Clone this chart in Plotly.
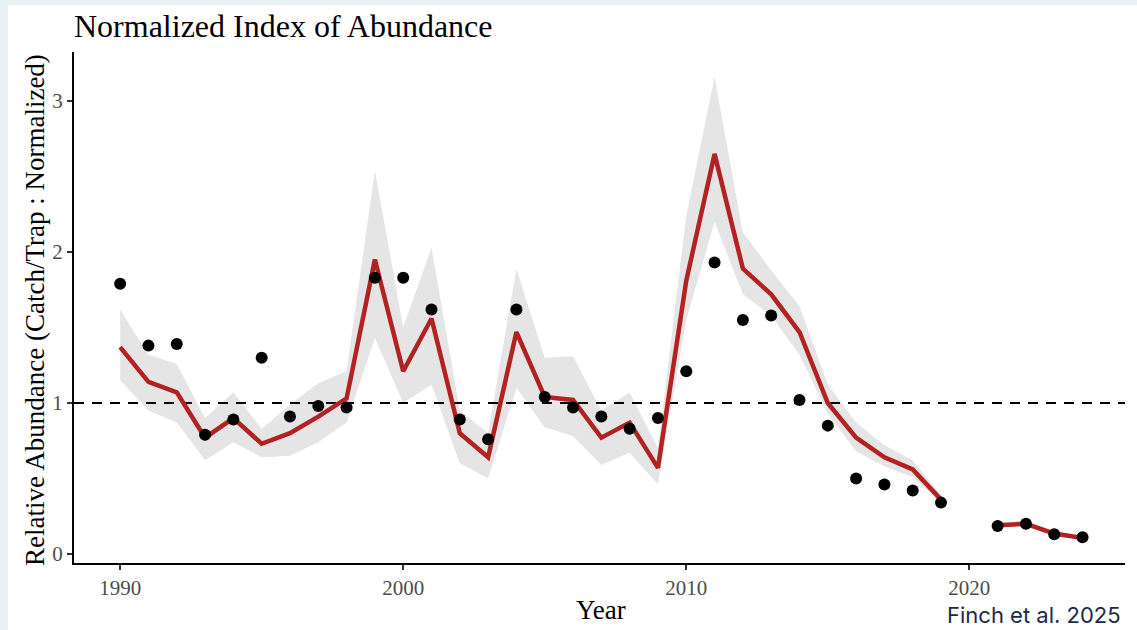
import plotly.graph_objects as go

years = [1990, 1991, 1992, 1993, 1994, 1995, 1996, 1997, 1998, 1999,
         2000, 2001, 2002, 2003, 2004, 2005, 2006, 2007, 2008, 2009,
         2010, 2011, 2012, 2013, 2014, 2015, 2016, 2017, 2018, 2019,
         2021, 2022, 2023, 2024]

observed = [1.79, 1.38, 1.39, 0.79, 0.89, 1.30, 0.91, 0.98, 0.97, 1.83,
            1.83, 1.62, 0.89, 0.76, 1.62, 1.04, 0.97, 0.91, 0.83, 0.90,
            1.21, 1.93, 1.55, 1.58, 1.02, 0.85, 0.50, 0.46, 0.42, 0.34,
            0.185, 0.20, 0.13, 0.11]

fitted = [1.37, 1.14, 1.07, 0.77, 0.90, 0.73, 0.80, 0.91, 1.03, 1.95,
          1.21, 1.56, 0.80, 0.64, 1.47, 1.04, 1.02, 0.77, 0.87, 0.57,
          1.81, 2.65, 1.89, 1.72, 1.47, 1.00, 0.77, 0.64, 0.56, 0.36,
          0.19, 0.20, 0.135, 0.105]

lower = [1.15, 0.95, 0.87, 0.62, 0.74, 0.64, 0.65, 0.74, 0.87, 1.43,
         1.00, 1.12, 0.60, 0.50, 1.10, 0.84, 0.78, 0.59, 0.67, 0.46,
         1.55, 2.20, 1.72, 1.58, 1.32, 0.93, 0.68, 0.58, 0.51, 0.34,
         0.175, 0.185, 0.12, 0.095]

upper = [1.62, 1.32, 1.26, 0.90, 1.07, 0.83, 0.99, 1.13, 1.21, 2.54,
         1.50, 2.03, 0.95, 0.80, 1.89, 1.30, 1.31, 0.95, 1.07, 0.70,
         2.24, 3.16, 2.13, 1.88, 1.64, 1.12, 0.87, 0.72, 0.62, 0.39,
         0.205, 0.22, 0.15, 0.115]

x_ticks = [1990, 2000, 2010, 2020]
y_ticks = [0, 1, 2, 3]
reference_level = 1

X_RANGE = [1988.37, 2025.5]
Y_RANGE = [-0.06, 3.325]

# split into continuous segments (survey gap in 2020)
segments = []
start = 0
for i in range(1, len(years)):
    if years[i] - years[i - 1] > 1:
        segments.append((start, i))
        start = i
segments.append((start, len(years)))

SERIF = "Liberation Serif, Times New Roman, serif"
RED = "#b22222"
FRAME = "#e8f1f4"

W, H = 1137, 630
L, R, T, B = 74, 12, 52, 67
pw, ph = W - L - R, H - T - B

fig = go.Figure()

# confidence ribbon
for a, b in segments:
    xs = years[a:b]
    fig.add_trace(go.Scatter(
        x=xs + xs[::-1],
        y=upper[a:b] + lower[a:b][::-1],
        fill="toself", fillcolor="#e5e5e5",
        line=dict(width=0), mode="lines",
        hoverinfo="skip", showlegend=False))

# reference line at 1 (drawn above ribbon, below the fitted line)
fig.add_trace(go.Scatter(
    x=X_RANGE, y=[reference_level, reference_level], mode="lines",
    line=dict(color="black", width=2, dash="10px,8px"),
    hoverinfo="skip", showlegend=False))

# fitted index
for a, b in segments:
    fig.add_trace(go.Scatter(
        x=years[a:b], y=fitted[a:b], mode="lines",
        line=dict(color=RED, width=4.5), showlegend=False))

# observed points
fig.add_trace(go.Scatter(
    x=years, y=observed, mode="markers",
    marker=dict(color="black", size=12), showlegend=False))

axis_common = dict(showgrid=False, zeroline=False,
                   showline=True, linecolor="black", linewidth=2,
                   ticks="outside", ticklen=5, tickwidth=2, tickcolor="#333333",
                   tickfont=dict(family=SERIF, size=21, color="#4d4d4d"))

fig.update_layout(
    width=W, height=H,
    margin=dict(l=L, r=R, t=T, b=B),
    paper_bgcolor=FRAME, plot_bgcolor="white",
    font=dict(family=SERIF, color="black"),
    xaxis=dict(range=X_RANGE, tickvals=x_ticks, **axis_common),
    yaxis=dict(range=Y_RANGE, tickvals=y_ticks, **axis_common),
    annotations=[
        dict(text="Normalized Index of Abundance", xref="paper", yref="paper",
             x=(72 - L) / pw, y=1 + (T - 26) / ph, xanchor="left", yanchor="middle",
             showarrow=False, font=dict(family=SERIF, size=32, color="black")),
        dict(text="Year", xref="paper", yref="paper",
             x=(601 - L) / pw, y=-(610 - 563) / ph, xanchor="center", yanchor="middle",
             showarrow=False, font=dict(family=SERIF, size=27, color="black")),
        dict(text="Relative Abundance (Catch/Trap : Normalized)", xref="paper", yref="paper",
             x=(35 - L) / pw, y=1 - (310 - T) / ph, xanchor="center", yanchor="middle",
             textangle=-90, showarrow=False,
             font=dict(family=SERIF, size=27, color="black")),
        dict(text="Finch et al. 2025", xref="paper", yref="paper",
             x=(1123 - L) / pw, y=-(615 - 563) / ph, xanchor="right", yanchor="middle",
             showarrow=False, font=dict(family="Inter, sans-serif", size=22, color="#1c2a48")),
    ],
)

# white card over the light-blue page frame (frame visible on left and top)
fig.add_shape(type="rect", xref="paper", yref="paper",
              x0=(8 - L) / pw, x1=1 + (R + 2) / pw,
              y0=-(B + 2) / ph, y1=1 + (T - 5) / ph,
              fillcolor="white", line=dict(width=0), layer="below")

fig.write_html("out.html",
               config={"displayModeBar": False},
               post_script="document.body.style.margin='0';document.body.style.overflow='hidden';")
